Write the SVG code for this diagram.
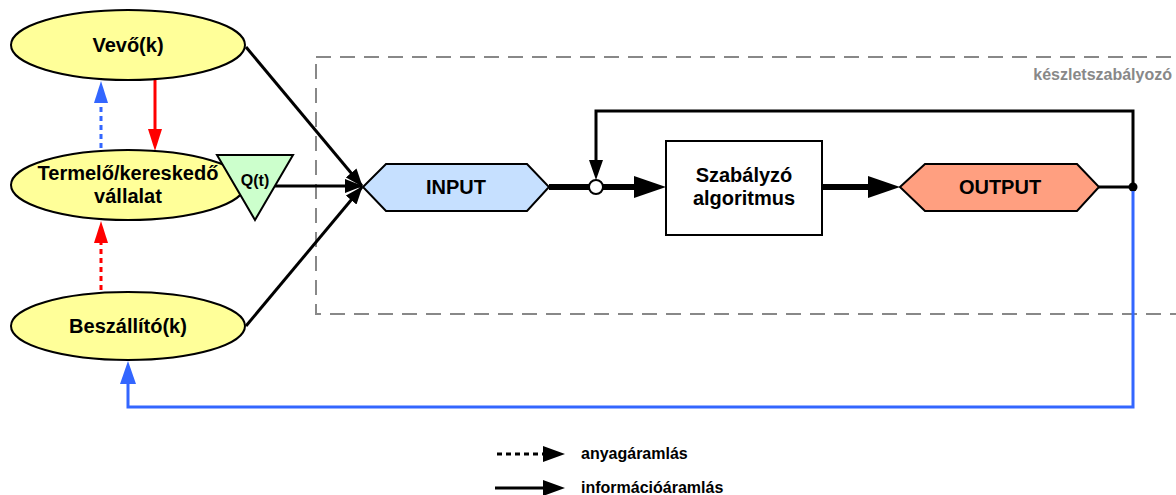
<svg xmlns="http://www.w3.org/2000/svg" width="1176" height="495" viewBox="0 0 1176 495">
<style>
.n{font-family:"Liberation Sans",Arial,sans-serif;font-weight:bold;font-size:20px;fill:#000;text-anchor:middle}
.ell{fill:#FFFF99;stroke:#000;stroke-width:2}
.k{fill:none;stroke:#000;stroke-width:3}
.thick{fill:none;stroke:#000;stroke-width:6}
.lg{font-family:"Liberation Sans",Arial,sans-serif;font-weight:bold;font-size:16px;fill:#000}
</style>
<defs>
<marker id="ab" viewBox="0 0 18 14" refX="17" refY="7" markerWidth="18" markerHeight="14" markerUnits="userSpaceOnUse" orient="auto"><path d="M0,0 L18,7 L0,14 z" fill="#000"/></marker>
</defs>
<rect x="316" y="57" width="870" height="257" fill="none" stroke="#888" stroke-width="2" stroke-dasharray="15,9"/>
<text x="1172" y="80" font-family="'Liberation Sans',Arial,sans-serif" font-weight="bold" font-size="16" fill="#888" text-anchor="end">készletszabályozó</text>
<g id="connectors">
<line x1="155" y1="80" x2="155" y2="132" stroke="#FF0000" stroke-width="3"/>
<path d="M148,129 L162,129 L155,151 z" fill="#FF0000"/>
<line x1="101" y1="148" x2="101" y2="100" stroke="#3366FF" stroke-width="3" stroke-dasharray="5,4"/>
<path d="M94,103 L108,103 L101,81 z" fill="#3366FF"/>
<line x1="101" y1="290" x2="101" y2="242" stroke="#FF0000" stroke-width="3" stroke-dasharray="5,4"/>
<path d="M94,243 L108,243 L101,221 z" fill="#FF0000"/>
<line x1="246" y1="47" x2="362" y2="186" class="k" marker-end="url(#ab)"/>
<line x1="275" y1="186" x2="362" y2="186" class="k" marker-end="url(#ab)"/>
<line x1="246" y1="326" x2="362" y2="187" class="k" marker-end="url(#ab)"/>
<line x1="549" y1="187" x2="589" y2="187" class="thick"/>
<line x1="603" y1="187" x2="636" y2="187" class="thick"/>
<path d="M634,176 L666,187 L634,198 z" fill="#000"/>
<line x1="822" y1="187" x2="870" y2="187" class="thick"/>
<path d="M868,176 L900,187 L868,198 z" fill="#000"/>
<line x1="1099" y1="187" x2="1133" y2="187" class="k"/>
<path d="M1133,187 L1133,111 L596,111 L596,165" class="k"/>
<path d="M589,160 L603,160 L596,180 z" fill="#000"/>
<circle cx="596" cy="187" r="7" fill="#fff" stroke="#000" stroke-width="2"/>
<circle cx="1133" cy="187" r="4.5" fill="#000"/>
<path d="M1133,191 L1133,407 L128,407 L128,380" fill="none" stroke="#3366FF" stroke-width="3"/>
<path d="M120,384 L136,384 L128,361 z" fill="#3366FF"/>
</g>
<g id="vevo"><ellipse cx="128" cy="45" rx="117" ry="35" class="ell"/><text x="128" y="52" class="n">Vevő(k)</text></g>
<g id="termelo"><ellipse cx="128" cy="185" rx="117" ry="35" class="ell"/><text x="128" y="180" class="n">Termelő/kereskedő</text><text x="128" y="203" class="n">vállalat</text></g>
<g id="beszallito"><ellipse cx="128" cy="326" rx="117" ry="34" class="ell"/><text x="128" y="333" class="n">Beszállító(k)</text></g>
<g id="qt"><path d="M217,155 L293,155 L255,220 z" fill="#CCFFCC" stroke="#000" stroke-width="2"/><text x="255" y="186" text-anchor="middle" font-family="'Liberation Sans',Arial,sans-serif" font-weight="bold" font-size="16">Q(t)</text></g>
<g id="input"><path d="M363,187 L386,164 L527,164 L549,187 L527,211 L386,211 z" fill="#C6E0FF" stroke="#000" stroke-width="2"/><text x="456" y="194" class="n">INPUT</text></g>
<g id="algo"><rect x="666" y="141" width="156" height="94" fill="#fff" stroke="#000" stroke-width="2"/><text x="744" y="182" class="n">Szabályzó</text><text x="744" y="205" class="n">algoritmus</text></g>
<g id="output"><path d="M900,187 L925,164 L1077,164 L1099,187 L1077,211 L925,211 z" fill="#FF9F80" stroke="#000" stroke-width="2"/><text x="1000" y="194" class="n">OUTPUT</text></g>
<g id="legend">
<line x1="497" y1="454" x2="545" y2="454" stroke="#000" stroke-width="3" stroke-dasharray="5,4"/>
<path d="M543,446 L565,454 L543,462 z" fill="#000"/>
<text x="581" y="459" class="lg">anyagáramlás</text>
<line x1="495" y1="488" x2="545" y2="488" stroke="#000" stroke-width="3"/>
<path d="M543,480 L565,488 L543,496 z" fill="#000"/>
<text x="581" y="493" class="lg">információáramlás</text>
</g>
</svg>
